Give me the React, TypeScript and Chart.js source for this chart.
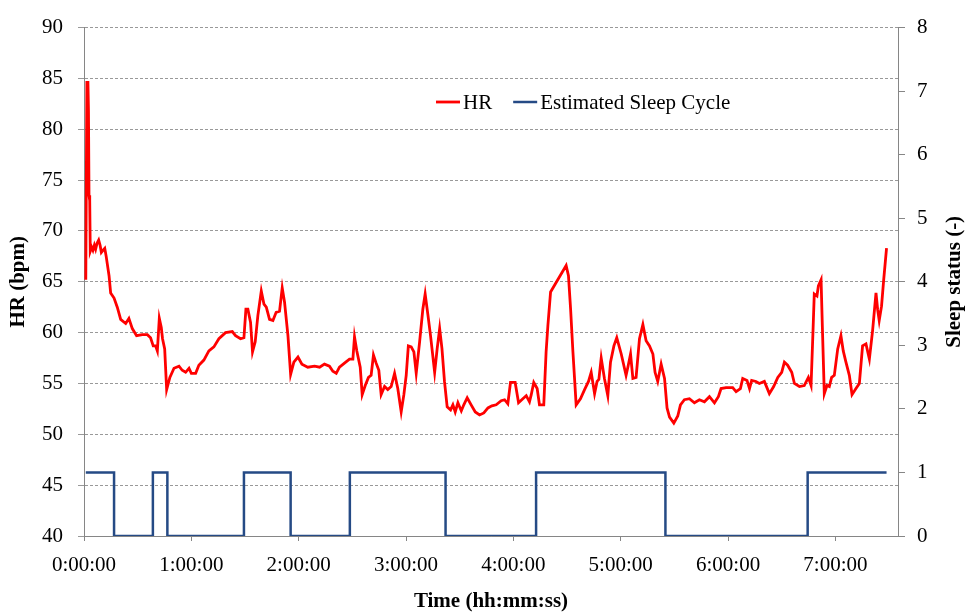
import React, { useEffect, useRef } from "react";
import { Chart, registerables } from "chart.js";

Chart.register(...registerables);

// Time in minutes since start
const hrTime: number[] = [
  1.0, 1.6, 2.2, 2.5, 2.8, 3.2, 3.5, 4.3, 5.0, 5.8, 6.5, 7.3, 8.2, 9.0, 9.7, 10.6, 11.6, 12.4, 14.0, 14.9,
  16.8, 18.6, 20.5, 23.3, 25.1, 27.0, 29.4, 32.6, 35.4, 37.2, 38.7, 40.0, 41.0, 42.1, 43.2, 43.9, 45.1, 46.2, 48.0, 50.3,
  53.1, 54.9, 56.8, 58.7, 60.0, 62.4, 64.2, 67.0, 69.8, 72.6, 75.4, 79.1, 82.9, 84.7, 87.5, 89.4, 90.5, 91.6, 93.1, 94.2,
  95.7, 97.2, 99.1, 100.6, 101.9, 103.7, 105.6, 107.4, 109.3, 110.8, 112.1, 114.0, 115.5, 117.3, 119.6, 121.8, 125.1, 128.9, 131.7, 134.4,
  137.2, 139.1, 141.0, 142.8, 145.6, 148.4, 150.3, 151.2, 152.5, 154.4, 155.5, 157.2, 159.0, 160.5, 161.8, 163.3, 164.8, 166.1, 168.0, 169.8,
  171.7, 173.6, 175.4, 177.3, 178.8, 180.1, 181.3, 182.9, 184.4, 185.7, 187.6, 189.4, 190.7, 192.2, 193.7, 196.0, 197.4, 198.8, 200.1, 201.5,
  203.0, 204.9, 206.2, 207.5, 209.0, 210.9, 212.3, 214.2, 216.4, 218.7, 221.1, 223.5, 225.8, 228.0, 230.4, 233.2, 235.1, 236.9, 238.4, 241.0,
  242.9, 245.3, 247.2, 249.0, 250.0, 251.4, 253.3, 254.6, 257.0, 258.3, 259.3, 260.8, 269.5, 270.8, 272.0, 273.3, 275.1, 277.5, 279.8, 282.0,
  283.5, 285.4, 286.8, 287.8, 289.1, 290.9, 292.8, 294.3, 296.2, 297.8, 300.3, 303.0, 304.0, 305.5, 306.8, 308.6, 310.5, 312.4, 314.2, 316.1,
  318.0, 319.2, 320.7, 322.6, 324.5, 325.9, 327.3, 329.7, 331.9, 333.4, 335.6, 338.4, 341.2, 344.0, 346.8, 349.6, 352.4, 354.6, 356.1, 358.9,
  362.6, 364.5, 366.9, 368.2, 370.6, 372.0, 373.2, 375.6, 377.5, 380.3, 383.1, 385.5, 387.8, 390.0, 391.5, 393.3, 395.6, 397.1, 399.9, 402.6,
  404.9, 406.4, 407.5, 408.2, 409.7, 410.5, 412.0, 412.7, 413.8, 415.3, 416.6, 417.9, 419.4, 421.3, 423.1, 424.4, 425.9, 427.8, 429.3, 431.5,
  433.4, 435.2, 437.1, 439.0, 440.8, 442.7, 443.6, 444.5, 445.8, 447.0, 448.6,
];

const hrValues: number[] = [
  65.2, 84.6, 84.6, 81.8, 73.5, 73.0, 68.0, 68.4, 68.1, 68.6, 68.2, 68.8, 69.1, 68.6, 67.9, 68.1, 68.3, 67.5, 65.6, 63.9,
  63.4, 62.5, 61.3, 60.9, 61.4, 60.4, 59.7, 59.8, 59.8, 59.5, 58.7, 58.7, 58.2, 61.4, 60.5, 59.4, 58.4, 54.4, 55.6, 56.5,
  56.7, 56.3, 56.1, 56.5, 56.0, 56.0, 56.8, 57.3, 58.2, 58.6, 59.4, 60.0, 60.1, 59.7, 59.4, 59.5, 62.3, 62.3, 61.0, 58.1,
  59.1, 61.7, 64.1, 62.8, 62.5, 61.3, 61.2, 62.0, 62.1, 64.4, 63.0, 59.7, 55.9, 57.1, 57.6, 56.9, 56.6, 56.7, 56.6, 56.9,
  56.7, 56.2, 56.0, 56.6, 57.0, 57.4, 57.4, 59.6, 58.2, 56.6, 53.9, 54.8, 55.6, 55.8, 57.8, 57.0, 56.3, 53.9, 54.7, 54.4,
  54.7, 56.0, 54.5, 52.2, 53.9, 55.8, 58.7, 58.6, 58.1, 56.0, 59.1, 62.3, 63.8, 61.8, 59.7, 56.1, 58.4, 60.4, 58.4, 55.2,
  52.7, 52.4, 52.9, 52.2, 53.1, 52.3, 52.9, 53.6, 52.9, 52.2, 51.9, 52.1, 52.6, 52.8, 52.9, 53.3, 53.4, 53.0, 55.1, 55.1,
  53.1, 53.5, 53.8, 53.2, 53.9, 55.1, 54.5, 52.9, 52.9, 58.1, 60.7, 64.0, 66.6, 65.6, 62.3, 58.1, 52.9, 53.5, 54.4, 55.2,
  56.1, 54.0, 55.2, 55.4, 57.5, 55.5, 53.8, 57.1, 58.7, 59.5, 57.9, 55.8, 56.6, 57.9, 55.5, 55.6, 59.4, 60.8, 59.2, 58.7,
  57.9, 56.1, 55.2, 56.9, 55.5, 52.6, 51.7, 51.1, 51.8, 52.9, 53.4, 53.5, 53.1, 53.4, 53.2, 53.7, 53.1, 53.7, 54.5, 54.6,
  54.6, 54.2, 54.5, 55.5, 55.3, 54.5, 55.3, 55.2, 55.0, 55.2, 54.0, 54.7, 55.6, 56.1, 57.1, 56.8, 56.1, 55.0, 54.7, 54.8,
  55.6, 54.8, 60.2, 63.8, 63.6, 64.6, 65.2, 60.7, 54.0, 54.8, 54.7, 55.6, 55.8, 58.4, 59.7, 58.2, 57.1, 55.8, 53.9, 54.5,
  55.0, 58.7, 58.9, 57.4, 60.2, 63.9, 62.3, 61.2, 62.6, 65.2, 68.3,
];

// Sleep cycle change points (minutes) and state after each change
const sleepTime: number[] = [1.0, 16.8, 38.5, 46.6, 89.4, 115.5, 148.6, 202.1, 252.7, 325.0, 404.5, 448.6];
const sleepValues: number[] = [1, 0, 1, 0, 1, 0, 1, 0, 1, 0, 1, 1];

const xMin = 0;
const xMax = 455;
const xStep = 60;
const hrMin = 40;
const hrMax = 90;
const hrStep = 5;
const sleepMin = 0;
const sleepMax = 8;
const sleepStep = 1;

const seriesLabels = ["HR", "Estimated Sleep Cycle"];
const axisTitles = { x: "Time (hh:mm:ss)", y: "HR (bpm)", y1: "Sleep status (-)" };

const FONT = "'Liberation Serif', 'Times New Roman', serif";
const AXIS_GRAY = "#868686";

const insideLegend = {
  id: "insideLegend",
  afterDraw(chart: any) {
    const ctx = chart.ctx;
    ctx.save();
    ctx.font = `21px ${FONT}`;
    ctx.textBaseline = "middle";
    ctx.textAlign = "left";
    let x = 436;
    const y = 102;
    chart.data.datasets.forEach((ds: any) => {
      ctx.strokeStyle = ds.borderColor;
      ctx.lineWidth = ds.borderWidth;
      ctx.beginPath();
      ctx.moveTo(x, y);
      ctx.lineTo(x + 24, y);
      ctx.stroke();
      ctx.fillStyle = "#000";
      ctx.fillText(ds.label, x + 27, y + 1);
      x += 27 + ctx.measureText(ds.label).width + 21;
    });
    ctx.restore();
  },
};

// Right axis title reading bottom-to-top, as in the reference
const rightTitle = {
  id: "rightTitle",
  afterDraw(chart: any) {
    const s = chart.scales.y1;
    const ctx = chart.ctx;
    ctx.save();
    ctx.font = `bold 21px ${FONT}`;
    ctx.fillStyle = "#000";
    ctx.textAlign = "center";
    ctx.textBaseline = "middle";
    ctx.translate(s.right - 10.5, (s.top + s.bottom) / 2);
    ctx.rotate(-Math.PI / 2);
    ctx.fillText(axisTitles.y1, 0, 0);
    ctx.restore();
  },
};

function fmtTime(v: number) {
  const h = Math.floor(v / 60);
  const m = Math.round(v - h * 60);
  return `${h}:${String(m).padStart(2, "0")}:00`;
}

export default function App() {
  const ref = useRef<HTMLCanvasElement | null>(null);

  useEffect(() => {
    if (!ref.current) return;
    const chart = new Chart(ref.current, {
      type: "line",
      data: {
        datasets: [
          {
            label: seriesLabels[0],
            data: hrTime.map((t, i) => ({ x: t, y: hrValues[i] })),
            borderColor: "#FF0000",
            borderWidth: 2.8,
            pointRadius: 0,
            tension: 0,
            yAxisID: "y",
          },
          {
            label: seriesLabels[1],
            data: sleepTime.map((t, i) => ({ x: t, y: sleepValues[i] })),
            borderColor: "#254A85",
            borderWidth: 2.5,
            pointRadius: 0,
            stepped: "before",
            yAxisID: "y1",
          },
        ],
      },
      options: {
        responsive: false,
        animation: false,
        layout: { padding: { left: 0, right: 0, top: 22, bottom: 0 } },
        plugins: { legend: { display: false }, tooltip: { enabled: false } },
        scales: {
          x: {
            type: "linear",
            position: "bottom",
            min: xMin,
            max: xMax,
            ticks: {
              stepSize: xStep,
              includeBounds: false,
              color: "#000",
              font: { family: FONT, size: 21 },
              padding: 12,
              maxRotation: 0,
              callback: (v: any) => fmtTime(Number(v)),
            },
            grid: { drawOnChartArea: false, drawTicks: true, tickLength: 5, color: AXIS_GRAY },
            border: { color: AXIS_GRAY, width: 1 },
            title: {
              display: true,
              text: axisTitles.x,
              color: "#000",
              font: { family: FONT, size: 21, weight: "bold", lineHeight: 1 },
              padding: 0,
            },
            afterFit: (s: any) => {
              s.height = 76;
            },
          },
          y: {
            type: "linear",
            position: "left",
            min: hrMin,
            max: hrMax,
            ticks: { stepSize: hrStep, color: "#000", font: { family: FONT, size: 21 }, padding: 15 },
            grid: { color: "#999999", tickLength: 6, lineWidth: 1 },
            border: { color: AXIS_GRAY, width: 1, dash: [3, 2] },
            title: {
              display: true,
              text: axisTitles.y,
              color: "#000",
              font: { family: FONT, size: 21, weight: "bold", lineHeight: 1 },
              padding: { top: 8, bottom: 0 },
            },
            afterFit: (s: any) => {
              s.width = 84;
            },
          },
          y1: {
            type: "linear",
            position: "right",
            min: sleepMin,
            max: sleepMax,
            ticks: { stepSize: sleepStep, color: "#000", font: { family: FONT, size: 21 }, padding: 12 },
            grid: { drawOnChartArea: false, drawTicks: true, tickLength: 7, color: AXIS_GRAY },
            border: { color: AXIS_GRAY, width: 1 },
            title: { display: false, text: axisTitles.y1 },
            afterFit: (s: any) => {
              s.width = 67;
            },
          },
        },
      },
      plugins: [insideLegend, rightTitle],
    } as any);
    return () => chart.destroy();
  }, []);

  return (
    <div style={{ position: "absolute", left: 0, top: 0, width: 965, height: 612, background: "#fff" }}>
      <canvas ref={ref} width={965} height={612} style={{ display: "block", width: 965, height: 612 }} />
    </div>
  );
}
